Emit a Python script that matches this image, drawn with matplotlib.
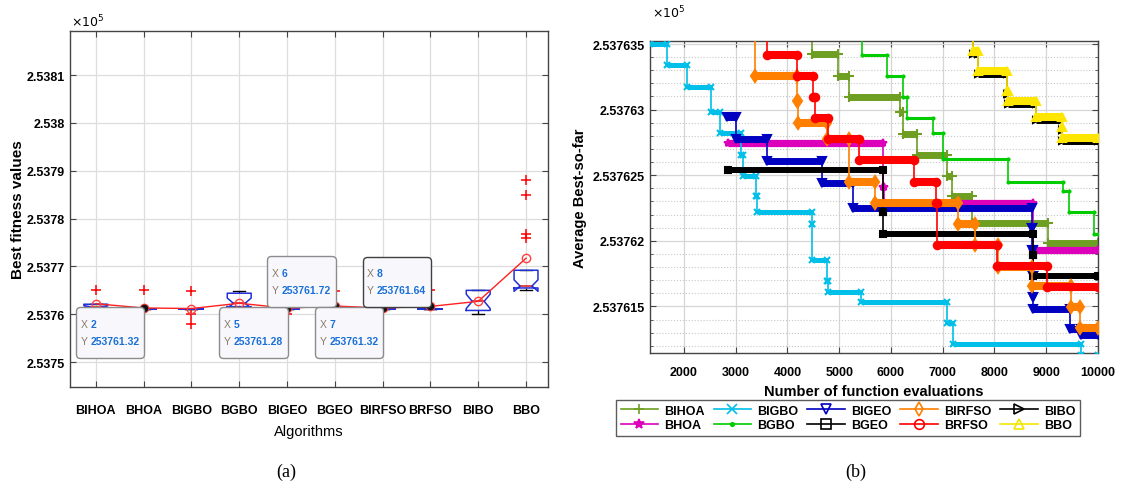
import numpy as np
import matplotlib
matplotlib.use("Agg")
import matplotlib.pyplot as plt
from matplotlib.lines import Line2D
from matplotlib.ticker import FixedLocator, FuncFormatter, MultipleLocator
from matplotlib.offsetbox import TextArea, HPacker, VPacker, AnnotationBbox, DrawingArea

plt.rcParams['font.family'] = ['Liberation Sans', 'DejaVu Sans']

# ---------------- (a) box plot data ----------------
algos = ['BIHOA', 'BHOA', 'BIGBO', 'BGBO', 'BIGEO', 'BGEO', 'BIRFSO', 'BRFSO', 'BIBO', 'BBO']
q1 = [253761.3, 253761.0, 253761.0, 253761.6, 253761.0, 253761.0, 253761.0, 253761.0, 253760.8, 253765.5]
med = [253761.6, 253761.0, 253761.0, 253762.3, 253761.0, 253761.0, 253761.0, 253761.0, 253762.7, 253765.9]
q3 = [253762.1, 253761.0, 253761.0, 253764.4, 253761.0, 253761.0, 253761.0, 253761.0, 253765.0, 253769.2]
whislo = [253761.3, 253761.0, 253761.0, 253761.6, 253761.0, 253761.0, 253761.0, 253761.0, 253760.0, 253765.0]
whishi = [253762.1, 253761.0, 253761.0, 253764.8, 253761.0, 253761.0, 253761.0, 253761.0, 253765.0, 253769.2]
cilo = [253761.4, 253761.0, 253761.0, 253761.2, 253761.0, 253761.0, 253761.0, 253761.0, 253761.2, 253764.8]
cihi = [253761.8, 253761.0, 253761.0, 253763.4, 253761.0, 253761.0, 253761.0, 253761.0, 253764.2, 253767.2]
fliers = [[253765.0], [253765.0], [253764.8, 253760.0, 253758.0], [], [253760.0], [253764.8], [],
          [253765.0], [], [253788.0, 253784.9, 253776.7, 253775.9]]
means = [253762.2, 253761.32, 253761.2, 253762.3, 253761.28, 253761.72, 253761.32, 253761.64, 253762.7, 253771.7]
tips = [2, 5, 6, 7, 8]
tip_align = [(1, 1), (1, 1), (1, 0), (1, 1), (1, 0)]

# ---------------- (b) convergence data ----------------
names = ['BIHOA', 'BHOA', 'BIGBO', 'BGBO', 'BIGEO', 'BGEO', 'BIRFSO', 'BRFSO', 'BIBO', 'BBO']
x_bihoa = [4460, 4473, 4975, 5180, 6170, 6231, 6510, 7090, 7178, 7560, 9032]
y_bihoa = [253763.8, 253763.424, 253763.255, 253763.095, 253762.980, 253762.813, 253762.651,
           253762.491, 253762.338, 253762.139, 253761.986]
x_bhoa = [2850, 5845, 5860, 8743]
y_bhoa = [253762.743, 253762.414, 253762.285, 253761.933]
x_bigbo = [1343, 1672, 2058, 2530, 2700, 3100, 3135, 3390, 3420, 4470, 4480, 4760, 4790, 5420,
           7081, 7190, 9670]
y_bigbo = [253763.500, 253763.339, 253763.172, 253762.980, 253762.820, 253762.651, 253762.491,
           253762.338, 253762.216, 253762.131, 253761.856, 253761.696, 253761.612, 253761.535,
           253761.374, 253761.214, 253761.130]
x_bgbo = [5430, 5439, 5922, 6231, 6308, 6811, 7004, 8260, 9322, 9438, 9921]
y_bgbo = [253763.8, 253763.416, 253763.255, 253763.095, 253762.934, 253762.820, 253762.621,
          253762.452, 253762.377, 253762.216, 253762.055]
x_bigeo = [2831, 3010, 3610, 4670, 5260, 8720, 8728, 8735, 8742, 8750, 9450, 9680]
y_bigeo = [253762.942, 253762.774, 253762.605, 253762.444, 253762.253, 253762.101, 253761.933,
           253761.734, 253761.574, 253761.482, 253761.329, 253761.283]
x_bgeo = [2850, 5845, 5855, 8743, 8750]
y_bgeo = [253762.537, 253762.216, 253762.055, 253761.895, 253761.734]
x_birfso = [3370, 3380, 4180, 4210, 4760, 5180, 5700, 7300, 7630, 8060, 8730, 9470, 9660]
y_birfso = [253763.8, 253763.255, 253763.064, 253762.896, 253762.774, 253762.452, 253762.292,
            253762.131, 253761.971, 253761.803, 253761.657, 253761.497, 253761.336]
x_brfso = [3590, 3600, 4180, 4500, 4530, 4790, 5390, 6450, 6860, 6880, 8050, 9020]
y_brfso = [253763.8, 253763.416, 253763.255, 253763.095, 253762.934, 253762.774, 253762.613,
           253762.452, 253762.292, 253761.971, 253761.810, 253761.650]
x_bbo = [7560, 7583, 7690, 8240, 8260, 8800, 9295, 9310]
y_bibo = [253763.8, 253763.424, 253763.269, 253763.119, 253763.042, 253762.920, 253762.843, 253762.760]
y_bbo = [253763.8, 253763.447, 253763.294, 253763.140, 253763.064, 253762.942, 253762.865, 253762.782]
x_end = 10000

fig = plt.figure(figsize=(11.27, 4.89), dpi=100)

# ================= panel (a) =================
ax1 = fig.add_axes([70 / 1127, 1 - 388 / 489, 478 / 1127, 356 / 489])
stats = []
for i in range(len(algos)):
    stats.append(dict(med=med[i], q1=q1[i], q3=q3[i], whislo=whislo[i], whishi=whishi[i],
                      cilo=cilo[i], cihi=cihi[i], fliers=fliers[i], label=algos[i]))
pos = np.arange(1, len(algos) + 1)
ax1.bxp(stats, positions=pos, widths=0.5, shownotches=True, showfliers=True, capwidths=0.25,
        boxprops=dict(color='#2030d8', lw=1.1, zorder=3),
        medianprops=dict(color='#e01010', lw=1.1, zorder=2),
        whiskerprops=dict(color='black', ls='--', lw=0.9),
        capprops=dict(color='black', lw=1),
        flierprops=dict(marker='+', markeredgecolor='red', markersize=7, mew=1.1))
ax1.plot(pos, means, color='#ff2020', lw=1, marker='o', ms=6, mfc='none', mec='#ff4040', zorder=4)
tx = [pos[t - 1] for t in tips]
ty = [means[t - 1] for t in tips]
ax1.plot(tx, ty, ls='none', marker='o', ms=4.5, color='#111111', zorder=5)

for t, al in zip(tips, tip_align):
    yv = means[t - 1]
    lab_kw = dict(color='#8a7a6a', size=7.5)
    val_kw = dict(color='#1a6fd8', size=7.5, weight='bold')
    row1 = HPacker(children=[TextArea('X ', textprops=lab_kw), TextArea(str(t), textprops=val_kw)],
                   pad=0, sep=0)
    row2 = HPacker(children=[TextArea('Y ', textprops=lab_kw), TextArea(f'{yv:.2f}', textprops=val_kw)],
                   pad=0, sep=0)
    box = VPacker(children=[DrawingArea(1, 0), row1, row2, DrawingArea(1, 0)],
                  align='left', pad=3, sep=5)
    ab = AnnotationBbox(box, (t, yv), xybox=(0, 0), xycoords='data', boxcoords='offset points',
                        box_alignment=al, pad=0.05, frameon=True,
                        bboxprops=dict(boxstyle='round,pad=0.05,rounding_size=0.3', fc='#f8f8fc',
                                       ec='#404040' if t == 8 else '#8c8c8c', lw=1))
    ab.set_zorder(6)
    ax1.add_artist(ab)

ax1.set_xlim(0.46, 10.46)
ax1.set_ylim(253744.8, 253819.2)
ax1.set_xticks(pos)
ax1.set_xticklabels(algos, fontsize=9, fontweight='bold')
ax1.yaxis.set_major_locator(FixedLocator(np.arange(253750, 253811, 10)))
ax1.yaxis.set_major_formatter(FuncFormatter(lambda v, p: f'{v / 1e5:.5g}'))
ax1.tick_params(axis='both', direction='in', top=True, right=True, length=4, labelsize=9,
                color='#444444', pad=4)
ax1.tick_params(axis='x', pad=12)
for lab in ax1.get_xticklabels() + ax1.get_yticklabels():
    lab.set_fontweight('bold')
ax1.grid(True, color='#dddddd', lw=0.9)
ax1.set_axisbelow(True)
for s in ax1.spines.values():
    s.set_color('#444444')
    s.set_linewidth(1.0)
ax1.set_ylabel('Best fitness values', fontsize=11, fontweight='bold')
ax1.yaxis.set_label_coords(-0.094, 0.5)
ax1.set_xlabel('Algorithms', fontsize=10.5, labelpad=6)
fig.text(71 / 1127, 1 - 22 / 489, r'$\times10^{5}$', fontsize=9, va='center')

# ================= panel (b) =================
ax2 = fig.add_axes([650 / 1127, 1 - 354 / 489, 448 / 1127, 312 / 489])

# x, y, colour, marker, band width (pt), end-marker size (pt)
series = [
    (x_bihoa, y_bihoa, '#6e9e22', '+', 5.0, 7.0),
    (x_bhoa, y_bhoa, '#dd00bb', '*', 5.2, 6.0),
    (x_bigbo, y_bigbo, '#00bfe8', 'x', 3.6, 5.0),
    (x_bgbo, y_bgbo, '#00cc00', '.', 2.2, 3.0),
    (x_bigeo, y_bigeo, '#0000c0', 'v', 5.0, 5.5),
    (x_bgeo, y_bgeo, '#000000', 's', 4.3, 4.3),
    (x_birfso, y_birfso, '#ff8000', 'd', 5.8, 6.0),
    (x_brfso, y_brfso, '#ff0000', 'o', 5.8, 5.4),
    (x_bbo, y_bibo, '#000000', '>', 5.0, 5.0),
    (x_bbo, y_bbo, '#ffe600', '^', 5.8, 6.0),
]
handles = []
for k, (xs, ys, col, mk, band, msz) in enumerate(series):
    xe = xs[1:] + [x_end]
    ax2.plot(xs + [x_end], ys + [ys[-1]], drawstyle='steps-post', color=col, lw=1.2, zorder=2 + k)
    ax2.hlines(ys, xs, xe, colors=col, lw=band, zorder=2 + k)
    ax2.plot(xs + xe, ys + ys, ls='none', marker=mk, color=col, ms=msz,
             mew=1.5, zorder=2 + k)
    handles.append(Line2D([], [], color=col if col != '#ffe600' else '#f2e600', lw=1.2, marker=mk,
                          ms=7 if mk != '.' else 5, mfc='none' if mk not in '.*' else col,
                          mew=1.2))

ax2.set_xlim(1343, 10000)
ax2.set_ylim(253761.145, 253763.523)
ax2.xaxis.set_major_locator(FixedLocator(np.arange(2000, 10001, 1000)))
ax2.yaxis.set_major_locator(FixedLocator([253761.5, 253762.0, 253762.5, 253763.0, 253763.5]))
ax2.yaxis.set_minor_locator(MultipleLocator(0.1))
ax2.yaxis.set_major_formatter(FuncFormatter(lambda v, p: f'{v / 1e5:.7g}'))
ax2.tick_params(axis='both', which='both', direction='in', top=True, right=True, labelsize=9,
                color='#444444')
ax2.tick_params(which='major', length=4)
ax2.tick_params(which='minor', length=2)
ax2.tick_params(axis='x', pad=9.5)
for lab in ax2.get_xticklabels() + ax2.get_yticklabels():
    lab.set_fontweight('bold')
ax2.grid(True, which='major', color='#d6d6d6', lw=0.9)
ax2.grid(True, which='minor', axis='y', color='#c8c8c8', lw=0.8, ls=':')
ax2.set_axisbelow(True)
for s in ax2.spines.values():
    s.set_color('#444444')
    s.set_linewidth(1.0)
ax2.set_xlabel('Number of function evaluations', fontsize=10.5, fontweight='bold', labelpad=4)
ax2.set_ylabel('Average Best-so-far', fontsize=10.5, fontweight='bold', labelpad=4)
fig.text(652 / 1127, 1 - 13 / 489, r'$\times10^{5}$', fontsize=9, va='center')

leg = ax2.legend(handles, names, ncol=5, loc='center', bbox_to_anchor=(848 / 1127, 1 - 419 / 489),
                 bbox_transform=fig.transFigure, prop=dict(weight='bold', size=9), frameon=True,
                 fancybox=False, edgecolor='#333333', handlelength=3, handletextpad=0.5,
                 columnspacing=0.7, borderpad=0.35, labelspacing=0.2)
leg.get_frame().set_linewidth(1.0)

fig.text(286 / 1127, 1 - 472 / 489, '(a)', fontsize=13, family=['Liberation Serif', 'DejaVu Serif'],
         ha='center', va='center')
fig.text(856 / 1127, 1 - 472 / 489, '(b)', fontsize=13, family=['Liberation Serif', 'DejaVu Serif'],
         ha='center', va='center')

fig.savefig('out.png', dpi=100)
